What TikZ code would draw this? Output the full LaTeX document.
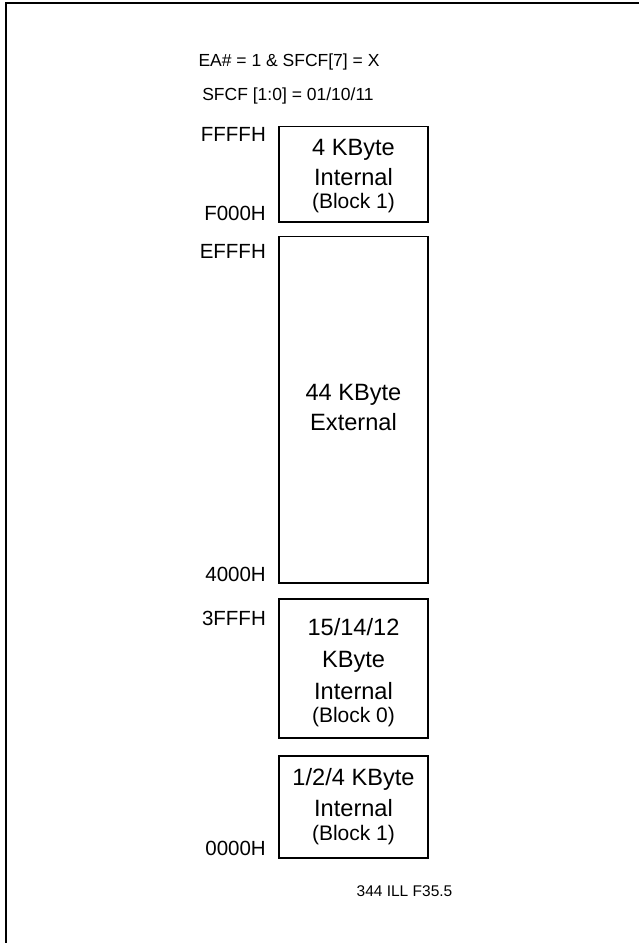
\documentclass[tikz,border=0pt]{standalone}
\usepackage{fontspec}
\setmainfont{Liberation Sans}
\usetikzlibrary{positioning}

\tikzset{
  memblk/.style={draw, line width=1.3pt, minimum width=149pt, inner sep=0pt},
  memtxt/.style={align=center, anchor=north, inner sep=0pt,
                 font=\fontsize{23.6}{30}\selectfont},
  addr/.style={anchor=base east, inner sep=0pt, font=\fontsize{20.5}{24}\selectfont},
  heading/.style={anchor=base, font=\fontsize{17.5}{21}\selectfont},
}
\newcommand{\blocktag}[1]{{\fontsize{21}{24}\selectfont #1}}

\begin{document}
\begin{tikzpicture}[x=1pt, y=-1pt]
  \useasboundingbox (0,0) rectangle (639,943);
  % frame, only top and left edges show
  \coordinate (frmtop) at (645,2.8);
  \coordinate (frmcorner) at (6.2,2.8);
  \coordinate (frmbot) at (6.2,950);
  \draw[line width=2.3pt] (frmtop) -- (frmcorner) -- (frmbot);

  % headings
  \node[heading] (cond) at (289,66.7) {EA\# = 1 \& SFCF[7] = X};
  \node[heading] (sfcf) at (288,100.5) {SFCF [1:0] = 01/10/11};

  % memory blocks
  \node[memblk, minimum height=95.5pt] (hiblk) at (353.5,174.3) {};
  \node[memblk, minimum height=346.5pt] (extblk) at (353.5,409.8) {};
  \node[memblk, minimum height=139pt] (loblk) at (353.5,668.5) {};
  \node[memblk, minimum height=102pt] (botblk) at (353.5,807) {};

  \node[memtxt, below=13.5pt of hiblk.north] (hitxt)
    {4 KByte\\Internal\\[-7pt]\blocktag{(Block 1)}};
  \node[memtxt, below=148.5pt of extblk.north] (exttxt)
    {44 KByte\\External};
  \node[memtxt, font=\fontsize{23.6}{32}\selectfont, below=19.5pt of loblk.north] (lotxt)
    {15/14/12\\KByte\\Internal\\[-9pt]\blocktag{(Block 0)}};
  \node[memtxt, font=\fontsize{23.6}{31}\selectfont, below=12.5pt of botblk.north] (bottxt)
    {1/2/4 KByte\\Internal\\[-7pt]\blocktag{(Block 1)}};

  % addresses
  \node[addr] (aFFFF) at (266,141.7) {FFFFH};
  \node[addr] (aF000) at (266,220.7) {F000H};
  \node[addr] (aEFFF) at (266,258.3) {EFFFH};
  \node[addr] (a4000) at (266,581.7) {4000H};
  \node[addr] (a3FFF) at (266,625) {3FFFH};
  \node[addr] (a0000) at (266,855) {0000H};

  % figure id
  \node[anchor=base, font=\fontsize{15.5}{18}\selectfont] (figid) at (404.5,896.7) {344 ILL F35.5};
\end{tikzpicture}
\end{document}
